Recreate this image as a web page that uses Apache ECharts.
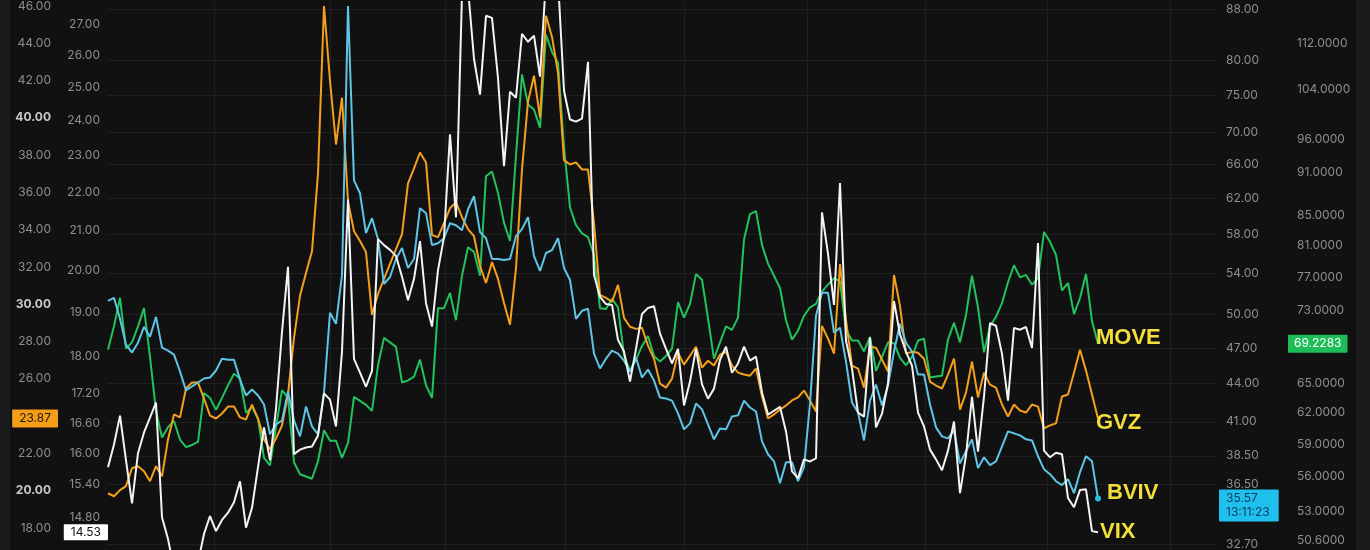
<!DOCTYPE html>
<html><head><meta charset="utf-8">
<script src="https://cdn.jsdelivr.net/npm/echarts@6/dist/echarts.min.js"></script>
<style>html,body{margin:0;padding:0;background:#111111;}#c{width:1370px;height:550px;}</style>
</head><body><div id="c"></div>
<script>
// ---- data (one value per trading day, oldest first) ----
const moveVals = [
68.6,71.2,74.5,68.7,69.4,71.2,73.3,67.8,62.2,59.6,
60.6,61.2,59.4,58.7,58.9,59.2,64.0,63.5,62.3,63.5,
64.8,66.0,65.5,62.0,62.6,61.4,57.7,57.0,60.6,64.3,
63.5,57.3,56.2,56.0,55.8,57.4,60.3,59.3,59.3,57.7,
59.1,63.6,63.2,62.8,62.2,66.9,69.9,69.4,68.9,65.1,
65.3,65.7,67.5,64.8,63.5,73.3,73.3,75.1,71.9,77.2,
80.8,80.2,77.2,90.5,91.2,88.1,84.0,81.6,93.6,106.5,
101.5,100.7,97.8,113.5,110.4,108.5,94.8,86.1,83.7,82.6,
82.1,79.8,73.3,73.2,74.4,73.4,68.0,66.3,67.5,69.0,
70.1,67.9,67.3,67.9,68.7,74.0,72.2,73.8,77.4,76.7,
72.1,67.6,69.4,71.2,70.8,72.2,81.8,85.2,85.6,81.1,
78.7,77.2,75.7,71.9,69.7,70.7,72.4,73.4,73.8,75.3,
76.1,76.9,76.5,70.8,69.6,69.6,68.4,70.0,66.3,67.8,
69.4,69.3,67.7,66.9,67.8,69.6,69.8,65.6,65.7,65.8,
69.7,71.6,69.4,72.5,77.2,73.4,68.3,71.2,72.3,73.9,
76.4,78.5,77.0,77.3,76.1,76.9,82.8,81.5,79.8,75.4,
76.3,72.6,74.5,77.4,71.8,69.2283];
const gvzVals = [
19.86,19.70,20.03,20.24,21.20,21.31,21.04,20.51,21.31,20.77,
22.75,24.09,23.93,25.48,25.80,25.80,24.94,24.03,23.87,24.14,
24.51,24.51,23.93,23.82,24.62,23.87,22.75,22.22,22.80,23.50,
25.16,28.20,30.45,31.68,32.85,37.02,46.00,41.99,38.57,41.08,
35.52,33.92,33.39,32.80,29.43,30.55,31.36,32.16,32.96,33.76,
36.49,37.29,38.14,37.61,33.71,33.60,34.35,35.15,35.47,34.67,
34.03,33.65,32.05,31.14,32.26,31.36,30.07,28.90,31.94,37.23,
40.87,42.26,40.01,45.47,44.34,42.42,37.72,37.50,37.61,37.23,
37.23,34.35,30.50,30.34,30.13,31.04,29.27,28.79,28.68,28.74,
27.78,27.08,25.74,25.53,26.01,27.40,26.76,27.24,27.72,26.60,
26.97,26.71,27.29,27.45,26.71,26.33,26.23,26.17,26.55,25.05,
23.87,24.09,24.35,24.57,24.84,25.00,25.37,24.84,24.25,28.84,
28.15,27.35,32.16,29.16,26.71,26.55,25.53,27.72,27.67,27.03,
26.39,31.57,29.91,27.35,27.45,27.40,27.08,25.85,25.64,25.48,
26.23,27.08,24.35,25.26,26.92,25.00,26.33,25.69,25.53,24.62,
23.98,24.62,24.30,24.19,24.62,24.51,23.34,23.50,23.61,25.05,
25.16,26.33,27.56,26.44,25.16,23.87];
const bvivVals = [
51.28,51.57,49.61,47.29,46.60,47.46,48.88,47.99,49.79,47.03,
46.77,46.43,45.00,43.45,43.77,44.09,44.42,44.50,45.08,46.08,
45.99,45.99,44.33,43.05,43.53,43.05,42.33,40.06,40.80,41.10,
43.37,41.10,39.91,42.18,40.65,40.06,43.28,50.16,49.15,53.80,
88.50,64.09,62.58,58.13,59.76,57.48,52.91,53.60,55.41,56.55,
54.50,55.41,60.88,60.32,56.86,57.06,57.59,59.21,58.99,58.45,
60.76,62.24,58.24,57.59,55.41,55.41,55.30,55.41,57.81,58.56,
59.87,55.72,54.20,56.03,56.34,57.59,54.50,53.30,49.61,50.35,
50.54,46.51,45.25,46.08,46.77,46.51,45.91,45.00,46.17,44.50,
45.16,44.25,42.88,42.80,42.64,41.64,40.43,40.88,42.41,41.95,
40.80,39.69,40.50,40.43,41.41,41.49,42.64,42.10,41.79,39.54,
38.61,38.11,36.60,38.04,38.04,36.73,37.70,42.41,49.89,52.05,
52.05,48.35,48.79,45.83,42.49,41.72,39.61,42.64,43.93,42.26,
43.85,46.69,49.15,47.46,46.69,44.75,44.75,42.33,40.58,39.91,
39.76,40.36,37.97,38.82,39.69,37.63,38.39,37.84,38.11,39.18,
40.28,40.13,39.98,39.69,39.61,38.47,37.56,37.21,36.73,36.47,
36.87,35.93,37.35,38.47,38.11,35.57];
const vixVals = [
15.73,16.17,16.75,15.86,15.05,16.00,16.41,16.71,17.02,14.80,
14.41,13.90,13.60,13.60,13.60,14.00,14.50,14.82,14.55,14.75,
14.88,15.07,15.46,14.61,14.97,15.73,16.51,15.86,16.89,18.55,
20.08,15.98,16.07,16.11,16.13,16.35,17.21,17.08,16.53,18.11,
21.80,17.95,17.65,17.35,17.69,20.77,20.62,20.50,20.35,19.84,
19.28,19.79,20.72,19.21,18.67,20.00,20.82,23.60,21.33,28.00,
28.20,25.88,24.77,27.27,27.20,25.28,22.70,24.86,24.68,26.68,
26.42,26.62,25.32,28.50,28.50,28.50,24.89,24.03,23.97,24.06,
25.78,19.88,19.36,19.19,19.17,18.37,18.11,17.46,18.17,18.96,
19.10,19.14,18.51,18.17,17.85,18.17,16.96,17.46,18.17,17.40,
17.10,17.31,17.93,18.22,17.65,17.85,18.22,17.91,18.00,17.23,
16.77,16.85,16.93,16.43,15.65,15.52,15.88,15.84,15.90,21.46,
20.40,19.17,22.24,18.35,17.74,16.81,16.73,18.42,16.51,16.79,
17.42,19.26,18.49,18.11,17.80,16.81,16.53,16.07,15.88,15.67,
16.05,16.63,15.24,15.96,17.14,16.03,17.14,18.75,18.69,18.06,
17.06,18.64,18.60,18.66,18.19,20.67,16.05,15.92,16.01,15.98,
15.15,14.98,15.30,15.31,14.55,14.53];

// ---- tick labels ----
const gvzTicks  = [18,20,22,26,28,30,32,34,36,38,40,42,44,46];
const vixTicks  = [14.8,15.4,16,16.6,17.2,18,19,20,21,22,23,24,25,26,27];
const bvivTicks = [32.7,36.5,38.5,41,44,47,50,54,58,62,66,70,75,80,88];
const moveTicks = [50.6,53,56,59,62,65,73,77,81,85,91,96,104,112];
const xGridTicks = [17.67,37,56.17,76.17,96,116.5,136.17,156.5,177];
const seriesNames = ['MOVE','GVZ','BVIV','VIX'];
const bvivTime = '13:11:23';

// ---- chart ----
const FONT = 'Inter, Roboto, "Liberation Sans", sans-serif';
const LBL = '#8e8e8e';
const GRID = '#1f1f1f';
const YEL = '#f2df3c';
const C_MOVE = '#22c25c', C_GVZ = '#f5a01c', C_BVIV = '#5ec5e6', C_VIX = '#f4f4f4';
const pairs = a => a.map((v, i) => [i, v]);
const last = a => a[a.length - 1];

const chart = echarts.init(document.getElementById('c'), null, {renderer: 'canvas', width: 1370, height: 550});

function endLbl(text, dist, dy) {
  return {show: true, formatter: text, color: YEL, fontWeight: 'bold', fontSize: 22,
    fontFamily: '"Liberation Sans", Arial, sans-serif', distance: dist, offset: [0, dy]};
}
function priceLine(val, txt, pos, dist, bg, fg, extra) {
  return {
    silent: true, symbol: 'none', animation: false,
    lineStyle: {color: 'rgba(0,0,0,0)', width: 0, type: 'solid'},
    emphasis: {disabled: true},
    label: Object.assign({show: true, position: pos, distance: dist, formatter: txt,
      backgroundColor: bg, color: fg, opacity: 1, fontSize: 12, fontFamily: FONT, padding: [3, 6], borderRadius: 1}, extra || {}),
    data: [{yAxis: val}]
  };
}
function yLbl(ticks, digits, extra) {
  return Object.assign({customValues: ticks, color: LBL, fontSize: 12, fontFamily: FONT,
    formatter: v => Number(v).toFixed(digits)}, extra || {});
}

const option = {
  backgroundColor: '#111111',
  animation: false,
  graphic: [
    {type: 'rect', left: 0, top: 0, shape: {width: 10, height: 550}, style: {fill: '#1b1b1b'}},
    {type: 'rect', left: 1356, top: 0, shape: {width: 14, height: 550}, style: {fill: '#1b1b1b'}}
  ],
  grid: {left: 108, right: 152, top: 0, bottom: 0},
  xAxis: {
    type: 'value', min: 0, max: 185,
    axisLine: {show: false}, axisLabel: {show: false},
    axisTick: {show: false, customValues: xGridTicks},
    splitLine: {show: true, lineStyle: {color: GRID, width: 1}}
  },
  yAxis: [
    { // GVZ – outer left, linear
      type: 'value', position: 'left', offset: 49, min: 16.82, max: 46.21,
      axisLine: {show: false}, axisTick: {show: false, customValues: gvzTicks}, splitLine: {show: false},
      axisLabel: yLbl(gvzTicks, 2, {
        formatter: v => (Math.round(v) % 10 === 0 ? '{b|' + Number(v).toFixed(2) + '}' : Number(v).toFixed(2)),
        rich: {b: {fontWeight: 'bold', color: '#c9c9c9', fontSize: 12, fontFamily: FONT}}
      })
    },
    { // VIX – inner left, log
      type: 'log', position: 'left', offset: 0, min: 14.22, max: 27.73,
      axisLine: {show: false}, axisTick: {show: false, customValues: vixTicks}, splitLine: {show: false},
      axisLabel: yLbl(vixTicks, 2)
    },
    { // BVIV – inner right, log
      type: 'log', position: 'right', offset: 0, min: 32.344, max: 89.143,
      axisLine: {show: false}, axisTick: {show: false, customValues: bvivTicks},
      splitLine: {show: true, lineStyle: {color: GRID, width: 1}},
      axisLabel: yLbl(bvivTicks, 2)
    },
    { // MOVE – outer right, log
      type: 'log', position: 'right', offset: 71, min: 49.80, max: 119.56,
      axisLine: {show: false}, axisTick: {show: false, customValues: moveTicks}, splitLine: {show: false},
      axisLabel: yLbl(moveTicks, 4)
    }
  ],
  series: [
    {
      name: seriesNames[0], type: 'line', yAxisIndex: 3, data: pairs(moveVals),
      symbol: 'none', lineStyle: {color: C_MOVE, width: 2}, itemStyle: {color: C_MOVE},
      endLabel: endLbl(seriesNames[0], -2, -6),
      markLine: priceLine(last(moveVals), last(moveVals).toFixed(4), 'end', 70, '#1fbd58', '#ffffff')
    },
    {
      name: seriesNames[1], type: 'line', yAxisIndex: 0, data: pairs(gvzVals),
      symbol: 'none', lineStyle: {color: C_GVZ, width: 2}, itemStyle: {color: C_GVZ},
      endLabel: endLbl(seriesNames[1], -2, 4),
      markLine: priceLine(last(gvzVals), last(gvzVals).toFixed(2), 'start', 50, '#f59d17', '#1a1a1a', {padding: [3, 7]})
    },
    {
      name: seriesNames[2], type: 'line', yAxisIndex: 2, data: pairs(bvivVals),
      symbol: 'none', lineStyle: {color: C_BVIV, width: 2}, itemStyle: {color: C_BVIV},
      endLabel: endLbl(seriesNames[2], 9, -6),
      markPoint: {silent: true, symbol: 'circle', symbolSize: 6, itemStyle: {color: '#22bfe9'}, label: {show: false},
        data: [{coord: [bvivVals.length - 1, last(bvivVals)]}]},
      markLine: priceLine(last(bvivVals), last(bvivVals).toFixed(2) + '\n' + bvivTime, 'end', 1, '#1fc0ee', '#0c3b5c',
        {padding: [2, 9, 2, 7], lineHeight: 14, offset: [0, 7]})
    },
    {
      name: seriesNames[3], type: 'line', yAxisIndex: 1, data: pairs(vixVals),
      symbol: 'none', lineStyle: {color: C_VIX, width: 2}, itemStyle: {color: C_VIX},
      endLabel: endLbl(seriesNames[3], 2, 0),
      markLine: priceLine(last(vixVals), last(vixVals).toFixed(2), 'start', 0, '#ffffff', '#111111', {padding: [2, 7]})
    }
  ]
};
chart.setOption(option);
</script></body></html>
